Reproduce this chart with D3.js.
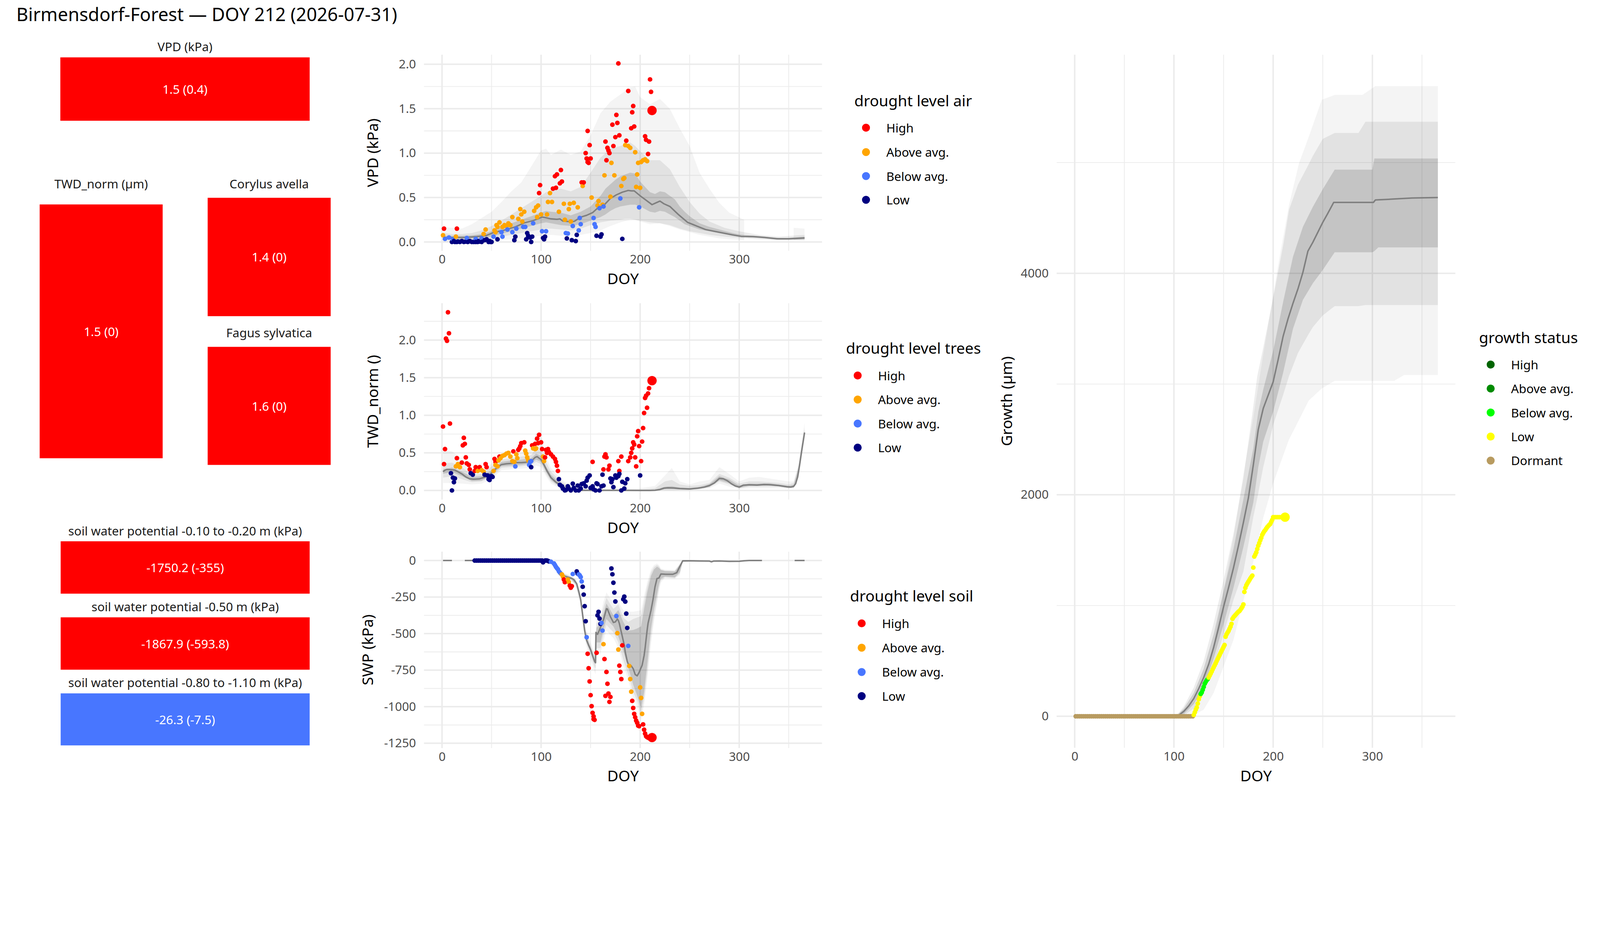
<!DOCTYPE html>
<html><head><meta charset="utf-8">
<script src="https://cdn.jsdelivr.net/npm/d3@7"></script>
<style>html,body{margin:0;padding:0;background:#fff;overflow:hidden}svg{display:block;width:100vw;height:100vh}</style>
</head><body>
<svg id="c" viewBox="0 0 4800 2400" preserveAspectRatio="xMinYMin meet"></svg>
<script>
// ---------------- DATA ----------------
const titleText = "Birmensdorf-Forest — DOY 212 (2026-07-31)";
const levelNames = ["High","Above avg.","Below avg.","Low"];
const levelColors = ["#FF0000","#FFA500","#4876FF","#000080"];
const growthNames = ["High","Above avg.","Below avg.","Low","Dormant"];
const growthColors = ["#006400","#008B00","#00FF00","#FFFF00","#B89B60"];

const tileLabels = ["VPD (kPa)","TWD_norm (µm)","Corylus avella","Fagus sylvatica",
  "soil water potential -0.10 to -0.20 m (kPa)","soil water potential -0.50 m (kPa)","soil water potential -0.80 to -1.10 m (kPa)"];
const tileValues = ["1.5 (0.4)","1.5 (0)","1.4 (0)","1.6 (0)","-1750.2 (-355)","-1867.9 (-593.8)","-26.3 (-7.5)"];
const tileLevel = [0,0,0,0,0,0,2];

const doyTicks = [0,100,200,300];
const doyMinor = [50,150,250,350];
const vpdTicks = [0,0.5,1,1.5,2];
const vpdMinor = [0.25,0.75,1.25,1.75];
const twdTicks = [0,0.5,1,1.5,2];
const twdMinor = [0.25,0.75,1.25,1.75,2.25];
const swpTicks = [0,-250,-500,-750,-1000,-1250];
const swpMinor = [-125,-375,-625,-875,-1125];
const groTicks = [0,2000,4000];
const groMinor = [1000,3000,5000];

// VPD
const vpdLine = [[1,.048],[10,.05],[23,.05],[35,.06],[44,.07],[53,.11],[62,.13],[74,.17],[83,.215],[92,.24],[101,.28],[104,.275],[110,.26],[116,.255],[119,.26],[122,.235],[128,.23],[131,.225],[134,.235],[140,.28],[146,.30],[152,.33],[158,.39],[164,.42],[170,.49],[176,.53],[182,.56],[188,.58],[191,.575],[194,.575],[200,.52],[206,.47],[212,.42],[216,.44],[220,.46],[224,.43],[230,.40],[239,.305],[248,.22],[257,.18],[266,.14],[275,.12],[284,.10],[293,.08],[302,.063],[314,.06],[326,.05],[338,.036],[350,.036],[366,.045]];
const vpdInner = [[1,.03,.07],[10,.03,.07],[20,.03,.07],[30,.035,.075],[40,.045,.09],[50,.06,.12],[60,.09,.17],[70,.12,.21],[80,.15,.25],[90,.18,.29],[100,.21,.33],[105,.22,.35],[110,.21,.34],[120,.19,.33],[130,.18,.30],[140,.20,.34],[150,.24,.40],[160,.28,.52],[165,.31,.60],[170,.35,.65],[175,.38,.70],[180,.40,.74],[185,.41,.76],[190,.42,.78],[195,.42,.77],[200,.40,.68],[205,.37,.62],[210,.34,.56],[215,.33,.54],[220,.35,.57],[225,.34,.56],[230,.31,.52],[235,.28,.48],[240,.24,.40],[245,.20,.34],[250,.18,.29],[255,.16,.25],[260,.14,.21],[270,.12,.17],[280,.10,.14],[290,.08,.11],[300,.06,.085],[310,.05,.075],[320,.045,.068],[330,.035,.055],[340,.025,.045],[350,.025,.045],[366,.03,.06]];
const vpdMid = [[1,.02,.10],[10,.02,.09],[20,.02,.09],[30,.02,.10],[40,.03,.13],[50,.04,.18],[60,.06,.24],[70,.08,.31],[80,.10,.38],[90,.12,.45],[100,.14,.52],[105,.15,.56],[110,.15,.58],[120,.14,.60],[130,.13,.57],[140,.15,.62],[150,.19,.78],[160,.22,.95],[170,.24,1.05],[180,.25,1.08],[185,.26,1.10],[190,.26,1.12],[195,.25,1.08],[200,.24,1.02],[210,.22,.92],[220,.21,.92],[230,.19,.82],[240,.15,.62],[250,.12,.45],[260,.10,.32],[270,.08,.23],[285,.06,.16],[300,.045,.12],[320,.03,.08],[340,.02,.06],[366,.02,.08]];
const vpdOuter = [[1,0,.17],[10,0,.16],[20,0,.15],[30,0,.20],[40,0,.27],[50,.01,.34],[60,.02,.45],[70,.03,.57],[80,.04,.67],[90,.06,.85],[100,.07,1.03],[105,.08,1.05],[110,.08,.98],[120,.07,1.04],[130,.07,.98],[140,.08,1.02],[150,.10,1.20],[160,.13,1.45],[170,.18,1.58],[180,.22,1.66],[190,.25,1.74],[195,.25,1.75],[200,.23,1.63],[210,.20,1.55],[220,.21,1.61],[230,.18,1.50],[240,.14,1.28],[250,.11,1.08],[260,.08,.78],[270,.06,.60],[280,.04,.44],[290,.03,.33],[305,.02,.25],[306,null,null],[354,null,null],[355,.02,.16],[366,.02,.15]];
const vpdHigh = [[2,.15],[15,.15],[98,.55],[99,.64],[112,.60],[114,.74],[115,.61],[116,.76],[119,.66],[120,.81],[121,.68],[141,.67],[143,.67],[145,1.0],[146,.94],[147,1.25],[147,.90],[148,.89],[149,1.09],[150,.94],[165,1.13],[166,.92],[167,1.06],[168,1.03],[169,1.0],[172,1.32],[173,1.08],[175,1.18],[176,1.43],[177,1.34],[178,2.01],[179,1.2],[186,1.14],[188,1.7],[191,1.28],[192,1.46],[193,1.53],[194,1.30],[205,1.19],[206,1.15],[208,.99],[209,1.13],[210,1.83],[211,1.69],[212,1.48]];
const vpdAbove = [[1,.075],[14,.06],[42,.09],[44,.14],[53,.13],[54,.11],[55,.19],[56,.17],[58,.22],[61,.17],[63,.19],[65,.18],[67,.21],[69,.19],[71,.28],[77,.26],[79,.37],[80,.31],[81,.23],[83,.34],[93,.35],[95,.39],[96,.28],[97,.41],[100,.31],[106,.31],[107,.45],[109,.55],[111,.45],[118,.34],[123,.43],[124,.25],[128,.37],[129,.43],[130,.23],[133,.44],[137,.39],[142,.63],[151,.50],[157,.41],[158,.46],[162,.42],[164,.75],[170,.51],[171,.89],[174,.75],[181,.63],[183,.71],[184,.72],[185,1.09],[188,1.08],[190,1.06],[195,1.01],[196,.62],[197,.76],[198,.89],[200,.61],[201,.90],[203,.92],[205,.93],[207,.91]];
const vpdBelow = [[3,.035],[7,.05],[11,.03],[25,.045],[34,.035],[40,.04],[52,.06],[60,.11],[61,.06],[66,.14],[71,.11],[75,.15],[82,.17],[84,.17],[92,.21],[101,.12],[105,.12],[125,.10],[127,.095],[132,.18],[138,.13],[139,.27],[140,.20],[153,.27],[154,.20],[155,.17],[159,.38],[163,.40],[180,.49],[199,.39]];
const vpdLow = [[10,0],[12,.01],[13,0],[15,0],[16,.005],[18,0],[20,.01],[22,0],[24,.005],[26,0],[28,.01],[30,0],[32,0],[34,0],[36,0],[37,.01],[38,.005],[40,0],[43,.02],[45,.03],[47,0],[48,.01],[49,0],[50,0],[56,.03],[73,.02],[74,.06],[85,.03],[86,.10],[87,.07],[89,.05],[90,0],[91,.06],[102,.045],[103,.03],[104,.06],[126,.04],[131,.02],[135,.01],[136,.08],[156,.07],[160,.06],[161,.085],[182,.035]];

// TWD
const twdLine = [[1,.25],[3,.27],[5,.28],[10,.275],[13,.27],[16,.25],[20,.22],[24,.18],[28,.155],[32,.15],[38,.155],[44,.18],[48,.21],[52,.26],[56,.31],[60,.345],[65,.355],[70,.36],[75,.37],[80,.37],[84,.375],[88,.38],[91,.40],[94,.44],[96,.45],[98,.43],[100,.41],[103,.34],[106,.26],[110,.17],[115,.11],[120,.065],[125,.025],[130,.008],[140,.002],[160,.002],[180,.002],[200,0],[210,0],[215,.003],[220,.012],[224,.03],[228,.035],[234,.033],[240,.025],[250,.02],[258,.03],[265,.045],[270,.065],[275,.10],[280,.16],[284,.155],[288,.13],[292,.09],[296,.06],[300,.045],[304,.07],[310,.075],[318,.072],[325,.08],[332,.075],[340,.065],[348,.05],[352,.045],[355,.055],[357,.09],[359,.18],[361,.34],[363,.52],[366,.77]];
const twdInner = [[1,.22,.28],[10,.245,.305],[20,.19,.25],[30,.125,.18],[40,.13,.19],[50,.21,.27],[60,.32,.38],[70,.33,.40],[80,.34,.41],[90,.36,.43],[95,.41,.49],[100,.38,.46],[105,.25,.32],[110,.14,.21],[120,.04,.09],[130,0,.02],[150,0,.006],[200,0,.006],[215,0,.01],[225,.02,.05],[232,.02,.055],[240,.015,.04],[250,.012,.032],[260,.022,.045],[270,.05,.085],[280,.135,.19],[290,.10,.145],[300,.035,.065],[310,.06,.09],[320,.06,.09],[330,.065,.095],[340,.055,.08],[350,.035,.06],[355,.04,.075],[360,.22,.30],[366,.74,.80]];
const twdMid = [[1,.17,.36],[10,.19,.37],[20,.15,.31],[30,.11,.21],[40,.12,.22],[50,.18,.32],[60,.30,.41],[70,.31,.43],[80,.32,.45],[90,.34,.47],[95,.38,.56],[100,.35,.52],[105,.22,.38],[110,.12,.25],[120,.03,.12],[130,0,.04],[150,0,.01],[200,0,.015],[215,0,.03],[225,.01,.12],[232,.01,.14],[240,.01,.08],[250,.01,.06],[260,.02,.07],[270,.04,.10],[280,.12,.22],[290,.08,.17],[300,.03,.09],[310,.05,.12],[320,.05,.12],[330,.05,.11],[340,.05,.10],[350,.03,.08],[355,.035,.10],[360,.19,.33],[366,.72,.83]];
const twdOuter = [[1,.10,.54],[10,.10,.52],[20,.09,.42],[30,.08,.25],[40,.09,.26],[50,.15,.36],[60,.27,.45],[70,.28,.47],[80,.29,.50],[90,.30,.55],[95,.33,.77],[100,.31,.70],[105,.19,.45],[110,.09,.30],[120,.02,.15],[130,0,.06],[150,0,.02],[200,0,.03],[215,0,.06],[225,0,.20],[232,0,.30],[240,0,.12],[250,0,.08],[260,.01,.12],[270,.03,.14],[280,.09,.31],[290,.05,.22],[300,.02,.12],[310,.03,.17],[320,.03,.18],[330,.03,.16],[340,.03,.14],[350,.025,.12],[355,.03,.12],[360,.17,.36],[366,.70,.90]];
const twdHigh = [[1,.85],[2,.35],[3,.55],[4,2.02],[5,1.99],[6,2.37],[7,2.09],[8,.89],[15,.43],[20,.37],[21,.60],[22,.70],[23,.62],[24,.44],[25,.36],[27,.34],[28,.28],[33,.26],[34,.31],[38,.31],[44,.35],[45,.31],[53,.42],[54,.38],[58,.45],[72,.52],[77,.54],[78,.56],[79,.59],[80,.63],[83,.64],[91,.60],[94,.62],[96,.69],[97,.63],[98,.74],[100,.64],[101,.55],[104,.44],[105,.54],[106,.50],[107,.55],[108,.51],[110,.48],[112,.45],[114,.42],[115,.38],[116,.33],[117,.26],[152,.38],[163,.28],[164,.45],[165,.48],[166,.44],[168,.28],[169,.33],[178,.39],[179,.26],[181,.45],[188,.39],[190,.44],[191,.50],[192,.56],[193,.64],[194,.61],[195,.44],[196,.32],[197,.72],[198,.79],[199,.59],[201,.39],[202,.65],[203,.83],[204,1.03],[205,1.23],[206,1.26],[207,1.10],[208,1.29],[209,1.36],[212,1.46]];
const twdAbove = [[14,.32],[16,.35],[18,.31],[36,.26],[40,.27],[42,.25],[52,.26],[54,.34],[56,.32],[57,.40],[59,.43],[61,.46],[63,.47],[65,.49],[67,.50],[69,.45],[71,.39],[73,.38],[75,.48],[76,.43],[84,.53],[85,.49],[86,.44],[87,.40],[92,.56],[94,.55],[95,.56],[102,.45],[103,.39]];
const twdBelow = [[74,.32],[88,.34],[89,.38],[90,.39]];
const twdLow = [[9,.23],[10,0],[11,.17],[12,.11],[13,.16],[29,.23],[31,.21],[43,.21],[46,.20],[47,.15],[48,.14],[50,.19],[51,.18],[90,.31],[118,.15],[119,.075],[121,.055],[122,.025],[124,0],[125,.005],[127,.055],[128,.025],[130,0],[132,.09],[133,.035],[135,0],[137,.065],[138,0],[140,.025],[141,.085],[143,.095],[145,.055],[146,.13],[147,.17],[149,.20],[150,.035],[152,.055],[153,.015],[155,0],[156,.095],[157,.085],[159,0],[161,.055],[162,.21],[163,.065],[170,.16],[171,.11],[172,.15],[173,.045],[175,.20],[176,.17],[178,.19],[179,.22],[181,0],[182,.115],[184,.025],[185,.095],[187,.15],[200,.20]];

// SWP
const swpLine = [[1,0],[10,0],[11,null],[22,null],[23,0],[60,0],[100,0],[105,-2],[108,-8],[110,-15],[113,-30],[115,-50],[118,-75],[120,-92],[123,-105],[125,-110],[128,-116],[131,-122],[133,-130],[136,-159],[138,-210],[140,-267],[142,-375],[144,-480],[145,-515],[146,-546],[148,-580],[150,-610],[152,-650],[154,-690],[155,-699],[155.4,-492],[157,-505],[159,-474],[161,-440],[163,-405],[165,-355],[166,-330],[167,-332],[168,-350],[170,-384],[172,-410],[173,-424],[175,-420],[177,-400],[178,-410],[179,-430],[181,-490],[182,-519],[184,-580],[185,-627],[187,-690],[188,-708],[190,-715],[191,-720],[193,-740],[195,-780],[197,-789],[199,-765],[200,-748],[202,-717],[204,-650],[205,-600],[207,-480],[208,-429],[210,-370],[211,-340],[213,-267],[215,-180],[217,-123],[219,-119],[220,-105],[221,-92],[226,-94],[233,-94],[237,-83],[240,-42],[243,-2],[250,-2],[260,-3],[270,-4],[272,-9],[274,-4],[280,-3],[290,-6],[300,-5],[305,-2],[310,0],[323,0],[324,null],[355,null],[356,0],[366,0]];
const swpInner = [[100,0,0],[110,-18,-12],[120,-98,-86],[130,-127,-113],[135,-160,-140],[140,-280,-255],[145,-530,-500],[150,-625,-598],[154,-705,-675],[155,-690,-560],[156,-560,-460],[160,-560,-430],[163,-470,-360],[166,-400,-294],[170,-430,-340],[173,-450,-375],[178,-520,-339],[183,-620,-420],[188,-730,-480],[193,-850,-475],[197,-924,-465],[201,-1013,-450],[204,-900,-330],[207,-717,-222],[211,-465,-105],[214,-330,-60],[217,-230,-42],[219,-160,-50],[221,-123,-65],[225,-110,-72],[235,-115,-75],[240,-80,-30],[243,-8,0],[260,-4,0]];
const swpMid = [[100,0,0],[110,-20,-10],[120,-102,-82],[130,-132,-108],[135,-168,-132],[140,-295,-245],[145,-550,-480],[150,-650,-580],[154,-730,-650],[155,-740,-520],[156,-600,-430],[160,-600,-400],[163,-510,-320],[166,-440,-255],[170,-470,-300],[173,-490,-330],[178,-560,-300],[183,-680,-390],[188,-780,-420],[193,-900,-400],[197,-960,-390],[201,-1050,-380],[204,-950,-280],[207,-780,-180],[211,-520,-80],[214,-380,-45],[217,-270,-30],[219,-190,-40],[221,-135,-60],[225,-115,-68],[235,-120,-70],[240,-90,-25],[243,-10,0],[260,-5,0]];
const swpOuter = [[100,0,0],[110,-22,-8],[120,-108,-78],[130,-138,-102],[135,-175,-125],[140,-310,-235],[145,-570,-460],[150,-680,-560],[154,-760,-630],[155,-780,-500],[156,-640,-400],[160,-640,-370],[163,-550,-280],[166,-480,-218],[170,-510,-260],[173,-530,-290],[178,-600,-280],[183,-720,-340],[188,-820,-350],[193,-940,-350],[197,-1000,-345],[201,-1090,-340],[204,-990,-240],[207,-830,-150],[211,-570,-60],[214,-420,-30],[217,-300,-20],[219,-210,-30],[221,-150,-55],[225,-120,-62],[235,-125,-65],[240,-100,-20],[243,-12,0],[260,-6,0]];
const swpLowZeroDoy = [33,35,37,39,41,43,45,47,49,51,53,55,57,59,61,63,65,67,69,71,73,75,77,79,81,83,85,87,89,91,93,95,97,99,101];
const swpLow = [[102,-12],[104,0],[105,0],[106,0],[107,-3],[108,-6],[136,-74],[137,-90],[142,-179],[143,-233],[144,-312],[145,-415],[157,-375],[158,-351],[159,-397],[160,-433],[171,-54],[172,-94],[173,-152],[174,-219],[175,-280],[183,-265],[184,-247],[185,-281],[186,-363],[187,-461]];
const swpBelow = [[110,-8],[113,-20],[114,-31],[115,-43],[116,-52],[117,-60],[118,-74],[119,-82],[120,-90],[132,-92],[138,-95],[139,-101],[140,-113],[141,-143],[146,-525],[161,-427],[162,-479],[176,-380],[188,-584]];
const swpAbove = [[121,-95],[122,-109],[127,-130],[128,-148],[163,-572],[177,-497],[178,-609],[189,-721],[190,-811],[191,-897],[200,-868],[201,-940],[202,-1049]];
const swpHigh = [[123,-130],[124,-148],[129,-171],[130,-186],[131,-175],[147,-638],[148,-737],[149,-827],[150,-921],[151,-996],[152,-1042],[153,-1066],[153,-1085],[154,-1090],[156,-631],[164,-674],[165,-926],[166,-762],[167,-843],[168,-910],[169,-967],[170,-933],[179,-719],[180,-762],[181,-811],[182,-580],[192,-960],[193,-1009],[194,-1049],[195,-1072],[196,-1095],[197,-1110],[198,-1130],[199,-1133],[203,-1121],[204,-1157],[205,-1184],[206,-1202],[207,-1208],[208,-1212],[209,-1215],[210,-1210],[211,-1212],[212,-1211]];

// Growth
const groLine = [[1,0],[100,0],[103,1],[105,10],[110,45],[115,95],[120,160],[125,250],[130,350],[135,470],[140,622],[145,800],[150,988],[155,1160],[160,1340],[165,1540],[170,1750],[175,1970],[180,2270],[185,2590],[190,2780],[195,2900],[200,3020],[205,3220],[210,3430],[215,3590],[220,3730],[225,3860],[230,4010],[235,4200],[240,4280],[245,4370],[250,4460],[255,4540],[261,4640],[301,4640],[303,4662],[320,4670],[340,4680],[366,4684]];
const groInner = [[1,0,0],[103,0,5],[110,20,70],[120,110,210],[130,270,430],[140,520,740],[150,830,1130],[160,1160,1510],[170,1530,1960],[180,1930,2420],[185,2250,2750],[190,2480,2950],[200,2750,3300],[210,3100,3740],[220,3500,4150],[230,3760,4420],[240,3910,4600],[250,4030,4760],[262,4190,4936],[300,4190,4936],[302,4200,5037],[306,4234,5037],[366,4234,5037]];
const groMid = [[1,0,0],[103,0,10],[110,8,90],[120,70,260],[130,210,500],[140,440,840],[150,740,1230],[160,1050,1650],[170,1307,2150],[180,1800,2800],[184,1969,3073],[190,2250,3330],[200,2631,3779],[210,2900,4250],[216,3073,4574],[225,3280,4800],[235,3440,4971],[240,3514,5060],[250,3620,5214],[262,3704,5267],[286,3704,5267],[293,3713,5369],[366,3713,5369]];
const groOuter = [[1,0,0],[103,0,20],[110,0,60],[120,10,130],[130,60,320],[140,210,650],[149,424,1086],[160,689,1616],[170,1042,2190],[180,1395,2700],[190,1792,3270],[200,2102,3800],[207,2278,4177],[216,2499,4618],[226,2675,4993],[236,2852,5236],[249,2960,5567],[262,3029,5611],[290,3029,5611],[303,3029,5691],[322,3029,5691],[332,3082,5691],[366,3082,5691]];
const groDormantDoy = [1,3,5,7,9,11,13,15,17,19,21,23,25,27,29,31,33,35,37,39,41,43,45,47,49,51,53,55,57,59,61,63,65,67,69,71,73,75,77,79,81,83,85,87,89,91,93,95,97,99,101,103,105,107,109,111,113,115,117,119];
const groBelow = [[127,202],[128,215],[129,239],[130,265],[131,294],[132,310],[133,325],[134,335]];
const groLow = [[120,12],[121,35],[122,60],[123,80],[124,115],[125,153],[126,180],[135,350],[136,368],[137,385],[138,404],[139,423],[140,442],[141,460],[142,478],[143,497],[144,516],[145,535],[146,553],[147,572],[148,590],[149,608],[150,626],[151,644],[152,718],[153,740],[154,755],[155,770],[156,790],[157,810],[158,835],[159,880],[160,895],[161,905],[162,915],[163,925],[164,935],[165,945],[166,950],[167,962],[168,975],[169,990],[170,1010],[171,1123],[172,1160],[173,1184],[174,1200],[175,1215],[176,1230],[177,1245],[178,1258],[179,1270],[180,1343],[181,1442],[182,1460],[183,1480],[184,1510],[185,1540],[186,1564],[187,1590],[188,1612],[189,1638],[190,1655],[191,1670],[192,1681],[193,1695],[194,1708],[195,1718],[196,1728],[197,1736],[198,1755],[199,1773],[200,1798],[202,1798],[204,1798],[206,1798],[208,1798],[210,1798],[212,1798]];

// ---------------- DRAWING ----------------
const FONT = "'Noto Sans', 'Open Sans', sans-serif";
const svg = d3.select("#c");
const X_DOMAIN = [-18.2, 383.6];
const GRID = "#EBEBEB";

svg.append("rect").attr("x",0).attr("y",0).attr("width",4800).attr("height",2400).attr("fill","#fff");
svg.append("text").attr("x",49).attr("y",63).attr("font-family",FONT).attr("font-size",55)
  .attr("fill","#000").text(titleText);

// tiles (layout only here)
const tileBoxes = [
  {x0:181,x1:929,y0:172,y1:362,ly:139},
  {x0:119,x1:488,y0:613,y1:1374,ly:551},
  {x0:623,x1:992,y0:593,y1:948,ly:551},
  {x0:623,x1:992,y0:1040,y1:1394,ly:997},
  {x0:182,x1:929,y0:1623,y1:1780,ly:1591},
  {x0:182,x1:929,y0:1851,y1:2008,ly:1819},
  {x0:182,x1:929,y0:2079,y1:2235,ly:2046}
];
tileBoxes.forEach((b,i)=>{
  const g = svg.append("g");
  g.append("rect").attr("x",b.x0).attr("y",b.y0).attr("width",b.x1-b.x0).attr("height",b.y1-b.y0)
    .attr("fill",levelColors[tileLevel[i]]);
  g.append("text").attr("x",(b.x0+b.x1)/2).attr("y",b.ly).attr("text-anchor","middle")
    .attr("dominant-baseline","central").attr("font-family",FONT).attr("font-size",36.7)
    .attr("fill","#1A1A1A").text(tileLabels[i]);
  g.append("text").attr("x",(b.x0+b.x1)/2).attr("y",(b.y0+b.y1)/2).attr("text-anchor","middle")
    .attr("dominant-baseline","central").attr("font-family",FONT).attr("font-size",36.7)
    .attr("fill","#FFFFFF").text(tileValues[i]);
});

function panel(p){
  const g = svg.append("g");
  const x = d3.scaleLinear().domain(X_DOMAIN).range([p.x0,p.x1]);
  const y = d3.scaleLinear().domain(p.yDomain).range([p.y1,p.y0]);
  const hline = (vals,w)=> g.append("g").selectAll("line").data(vals).join("line")
      .attr("x1",p.x0).attr("x2",p.x1).attr("y1",d=>y(d)).attr("y2",d=>y(d))
      .attr("stroke",GRID).attr("stroke-width",w);
  const vline = (vals,w)=> g.append("g").selectAll("line").data(vals).join("line")
      .attr("y1",p.y0).attr("y2",p.y1).attr("x1",d=>x(d)).attr("x2",d=>x(d))
      .attr("stroke",GRID).attr("stroke-width",w);
  hline(p.yMinor,2.2); vline(doyMinor,2.2);
  hline(p.yTicks,4.4); vline(doyTicks,4.4);

  const area = d3.area().defined(d=>d[1]!=null).x(d=>x(d[0])).y0(d=>y(d[1])).y1(d=>y(d[2]));
  [[p.outer,0.045],[p.mid,0.07],[p.inner,0.13]].forEach(([b,op])=>{
    g.append("path").attr("d",area(b)).attr("fill","#000").attr("fill-opacity",op);
  });
  const line = d3.line().defined(d=>d[1]!=null).x(d=>x(d[0])).y(d=>y(d[1]));
  g.append("path").attr("d",line(p.line)).attr("fill","none").attr("stroke","#7F7F7F")
    .attr("stroke-width",4.4).attr("stroke-linejoin","round");

  const pts = [];
  p.series.forEach((s,ci)=> s.forEach(d=>pts.push({doy:d[0],v:d[1],c:p.colors[ci]})));
  pts.sort((a,b)=>a.doy-b.doy);
  const lastDoy = d3.max(pts,d=>d.doy);
  g.append("g").selectAll("circle").data(pts).join("circle")
    .attr("cx",d=>x(d.doy)).attr("cy",d=>y(d.v)).attr("r",d=>d.doy===lastDoy?14:7)
    .attr("fill",d=>d.c);

  const ax = g.append("g").attr("transform",`translate(${p.x0},0)`)
    .call(d3.axisLeft(y).tickValues(p.yTicks).tickSize(0).tickPadding(24).tickFormat(p.fmt));
  const bx = g.append("g").attr("transform",`translate(0,${p.y1})`)
    .call(d3.axisBottom(x).tickValues(doyTicks).tickSize(0).tickPadding(12).tickFormat(d=>String(d)));
  [ax,bx].forEach(a=>{
    a.select(".domain").remove();
    a.selectAll("text").attr("font-family",FONT).attr("font-size",36.7).attr("fill","#4D4D4D");
  });
  g.append("text").attr("transform",`translate(${p.ytx},${(p.y0+p.y1)/2}) rotate(-90)`)
    .attr("text-anchor","middle").attr("font-family",FONT).attr("font-size",45.8).attr("fill","#000")
    .text(p.ytitle);
  g.append("text").attr("x",(p.x0+p.x1)/2).attr("y",p.y1+100).attr("text-anchor","middle")
    .attr("font-family",FONT).attr("font-size",45.8).attr("fill","#000").text("DOY");
}

function legend(lx, ty, title, names, colors, rows){
  const g = svg.append("g");
  g.append("text").attr("x",lx).attr("y",ty).attr("font-family",FONT).attr("font-size",45.8)
    .attr("fill","#000").text(title);
  names.forEach((n,i)=>{
    g.append("circle").attr("cx",lx+35).attr("cy",rows[i]).attr("r",12).attr("fill",colors[i]);
    g.append("text").attr("x",lx+96).attr("y",rows[i]).attr("dominant-baseline","central")
      .attr("font-family",FONT).attr("font-size",36.7).attr("fill","#000").text(n);
  });
}

const f1 = d3.format(".1f");
panel({x0:1272,x1:2466,y0:164,y1:752,yDomain:[-0.0995,2.108],yTicks:vpdTicks,yMinor:vpdMinor,
  outer:vpdOuter,mid:vpdMid,inner:vpdInner,line:vpdLine,
  series:[vpdHigh,vpdAbove,vpdBelow,vpdLow],colors:levelColors,fmt:f1,ytitle:"VPD (kPa)",ytx:1134});
panel({x0:1272,x1:2466,y0:909,y1:1498,yDomain:[-0.1216,2.491],yTicks:twdTicks,yMinor:twdMinor,
  outer:twdOuter,mid:twdMid,inner:twdInner,line:twdLine,
  series:[twdHigh,twdAbove,twdBelow,twdLow],colors:levelColors,fmt:f1,ytitle:"TWD_norm ()",ytx:1134});
panel({x0:1272,x1:2466,y0:1654,y1:2243,yDomain:[-1283,61],yTicks:swpTicks,yMinor:swpMinor,
  outer:swpOuter,mid:swpMid,inner:swpInner,line:swpLine,
  series:[swpHigh,swpAbove,swpBelow,swpLow.concat(swpLowZeroDoy.map(d=>[d,0]))],colors:levelColors,
  fmt:d=>String(d),ytitle:"SWP (kPa)",ytx:1119});
panel({x0:3170,x1:4366,y0:164,y1:2242,yDomain:[-284,5974],yTicks:groTicks,yMinor:groMinor,
  outer:groOuter,mid:groMid,inner:groInner,line:groLine,
  series:[groBelow,groLow,groDormantDoy.map(d=>[d,0])],colors:[growthColors[2],growthColors[3],growthColors[4]],
  fmt:d=>String(d),ytitle:"Growth (µm)",ytx:3036});

legend(2563,319,"drought level air",levelNames,levelColors,[383,456,528,599]);
legend(2538,1061,"drought level trees",levelNames,levelColors,[1126,1198,1270,1342]);
legend(2550,1804,"drought level soil",levelNames,levelColors,[1869,1942,2015,2087]);
legend(4437,1029,"growth status",growthNames,growthColors,[1093,1165,1237,1309,1381]);
</script>
</body></html>
